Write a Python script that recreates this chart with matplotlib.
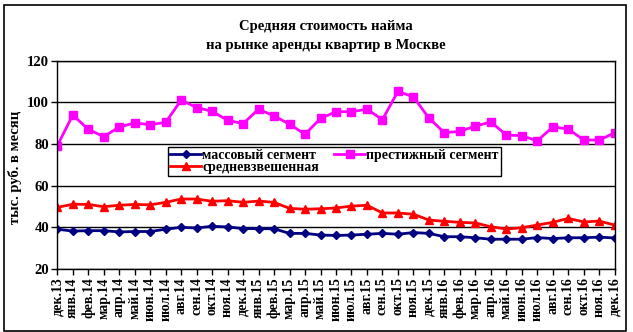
import matplotlib.pyplot as plt
from matplotlib.patches import Rectangle

months = ["дек.13", "янв.14", "фев.14", "мар.14", "апр.14", "май.14", "июн.14",
          "июл.14", "авг.14", "сен.14", "окт.14", "ноя.14", "дек.14", "янв.15",
          "фев.15", "мар.15", "апр.15", "май.15", "июн.15", "июл.15", "авг.15",
          "сен.15", "окт.15", "ноя.15", "дек.15", "янв.16", "фев.16", "мар.16",
          "апр.16", "май.16", "июн.16", "июл.16", "авг.16", "сен.16", "окт.16",
          "ноя.16", "дек.16"]

mass = [39.1, 38.2, 38.4, 38.4, 37.8, 38.0, 38.0, 39.1, 40.0, 39.7, 40.5, 40.2,
        39.4, 39.4, 39.3, 37.1, 37.1, 36.3, 36.1, 36.3, 36.7, 37.1, 36.7, 37.5,
        37.1, 35.5, 35.5, 35.0, 34.3, 34.3, 34.3, 35.1, 34.6, 35.0, 35.0, 35.3,
        34.9]

prestige = [79.2, 93.9, 87.1, 83.5, 88.2, 90.1, 89.3, 90.4, 101.1, 97.5, 95.7,
            91.4, 89.8, 96.7, 93.5, 89.5, 84.7, 92.3, 95.5, 95.5, 96.7, 91.7,
            105.3, 102.6, 92.5, 85.4, 86.1, 88.6, 90.6, 84.3, 84.0, 81.5, 88.2,
            87.2, 81.9, 81.9, 85.4]

weighted = [49.6, 51.1, 51.0, 49.9, 50.6, 51.0, 50.8, 52.0, 53.6, 53.6, 52.5,
            52.8, 52.0, 52.6, 52.0, 49.1, 48.7, 48.9, 49.3, 50.2, 50.6, 46.9,
            46.9, 46.3, 43.5, 42.9, 42.4, 42.1, 40.3, 39.2, 39.8, 41.1, 42.4,
            44.3, 42.6, 43.0, 41.1]

serif = ["Liberation Serif", "DejaVu Serif"]
plt.rcParams["font.family"] = serif
plt.rcParams["font.weight"] = "bold"

fig = plt.figure(figsize=(6.33, 3.32), dpi=100)
ax = fig.add_axes([57.3 / 633, 1 - 269 / 332, (614.7 - 57.3) / 633, (269 - 60.7) / 332])

x = list(range(len(months)))
l_mass, = ax.plot(x, mass, color="#000080", marker="D", markersize=4.2,
                  linewidth=2, label="массовый сегмент")
l_pres, = ax.plot(x, prestige, color="#FF00FF", marker="s", markersize=5.2,
                  linewidth=2, label="престижный сегмент")
l_wt, = ax.plot(x, weighted, color="#FF0000", marker="^", markersize=5.8,
                linewidth=2, label="средневзвешенная")

ax.set_xlim(0, len(months) - 1)
ax.set_ylim(20, 120)
ax.set_yticks([20, 40, 60, 80, 100, 120])
ax.yaxis.grid(True, color="black", linewidth=1)
ax.set_axisbelow(True)
ax.set_xticks(x)
ax.set_xticklabels(months, rotation=90, fontsize=10, fontweight="bold")
ax.tick_params(axis="y", labelsize=10.5, direction="out", length=4, width=1, pad=2)
ax.tick_params(axis="x", direction="out", length=4, width=1, pad=2)
for s in ax.spines.values():
    s.set_linewidth(1)
    s.set_color("black")

ax.set_ylabel("тыс. руб. в месяц", fontsize=10.5, fontweight="bold")
ax.yaxis.set_label_coords(-0.063, 0.49)
fig.suptitle("Средняя стоимость найма\nна рынке аренды квартир в Москве",
             x=0.515, y=0.94, fontsize=10.5, fontweight="bold", linespacing=1.65)

# legend: two columns, mass + weighted in first, prestige in second
leg = ax.legend([l_mass, l_wt, l_pres],
                ["массовый сегмент", "средневзвешенная", "престижный сегмент"],
                ncol=2, loc="upper left", bbox_to_anchor=(0.199, 0.586),
                fontsize=10, frameon=True, fancybox=False, edgecolor="black",
                framealpha=1, borderpad=0.15, handlelength=2.2,
                handletextpad=0.1, columnspacing=1.1, labelspacing=-0.1,
                borderaxespad=0)
leg.get_frame().set_linewidth(1)

fig.patches.append(Rectangle((4 / 633, 1 / 332), 622 / 633, 326 / 332,
                             transform=fig.transFigure, fill=False,
                             edgecolor="black", linewidth=1.2))

fig.savefig("out.png", dpi=100)
